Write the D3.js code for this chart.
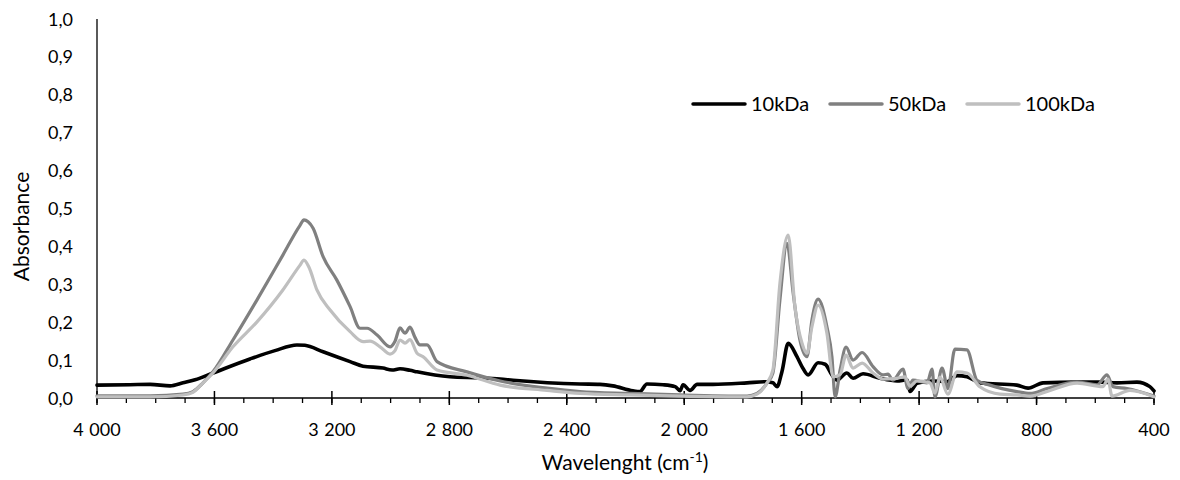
<!DOCTYPE html>
<html>
<head>
<meta charset="utf-8">
<script src="https://cdn.jsdelivr.net/npm/d3@7"></script>
<style>
  body { margin: 0; background: #fff; }
  text { font-family: Lato, "Open Sans", sans-serif; fill: #000; }
</style>
</head>
<body>
<svg id="chart" width="1180" height="480"></svg>
<script>
// series names and colours
const seriesNames = ["10kDa", "50kDa", "100kDa"];
const seriesColors = ["#000000", "#808080", "#bfbfbf"];

// 10kDa spectrum (wavenumber cm-1, absorbance)
const wn10 = [4000, 3888, 3819, 3751, 3707, 3666, 3605, 3479, 3394, 3319, 3292, 3230, 3138, 3094, 3026, 2995, 2968, 2934, 2910, 2798, 2696, 2627, 2583, 2355, 2287, 2243, 2175, 2151, 2127, 2072, 2031, 2014, 2004, 1980, 1956, 1902, 1786, 1725, 1698, 1684, 1667, 1646, 1616, 1599, 1578, 1544, 1520, 1497, 1480, 1446, 1425, 1391, 1333, 1275, 1241, 1231, 1207, 1153, 1105, 1071, 1037, 992, 867, 829, 778, 662, 584, 526, 458, 414, 400];
const abs10 = [0.034, 0.035, 0.036, 0.032, 0.040, 0.048, 0.066, 0.103, 0.125, 0.140, 0.139, 0.122, 0.096, 0.084, 0.079, 0.074, 0.077, 0.073, 0.069, 0.056, 0.053, 0.050, 0.047, 0.037, 0.036, 0.032, 0.019, 0.017, 0.037, 0.035, 0.030, 0.019, 0.035, 0.020, 0.036, 0.036, 0.040, 0.043, 0.040, 0.030, 0.070, 0.144, 0.109, 0.083, 0.061, 0.093, 0.089, 0.061, 0.047, 0.066, 0.052, 0.064, 0.052, 0.045, 0.048, 0.017, 0.039, 0.045, 0.043, 0.059, 0.056, 0.040, 0.034, 0.026, 0.040, 0.042, 0.042, 0.040, 0.042, 0.030, 0.019];

// 50kDa spectrum
const wn50 = [4000, 3819, 3707, 3673, 3639, 3605, 3537, 3455, 3367, 3309, 3295, 3281, 3264, 3230, 3183, 3138, 3104, 3080, 3046, 3002, 2985, 2968, 2951, 2934, 2917, 2900, 2876, 2842, 2740, 2627, 2467, 2355, 2185, 2014, 1786, 1752, 1718, 1698, 1674, 1650, 1629, 1606, 1582, 1565, 1544, 1514, 1497, 1486, 1469, 1449, 1425, 1394, 1357, 1323, 1306, 1289, 1255, 1238, 1221, 1173, 1156, 1146, 1122, 1102, 1078, 1037, 1003, 959, 867, 822, 764, 662, 594, 560, 540, 492, 400];
const abs50 = [0.006, 0.006, 0.010, 0.017, 0.040, 0.069, 0.153, 0.259, 0.377, 0.455, 0.470, 0.465, 0.448, 0.373, 0.311, 0.241, 0.184, 0.184, 0.166, 0.135, 0.150, 0.185, 0.171, 0.187, 0.160, 0.140, 0.140, 0.096, 0.069, 0.045, 0.026, 0.017, 0.012, 0.008, 0.005, 0.012, 0.039, 0.066, 0.259, 0.408, 0.277, 0.153, 0.109, 0.206, 0.261, 0.188, 0.109, 0.003, 0.074, 0.134, 0.100, 0.120, 0.083, 0.061, 0.063, 0.047, 0.076, 0.025, 0.047, 0.040, 0.076, 0.003, 0.079, 0.025, 0.129, 0.127, 0.047, 0.034, 0.017, 0.012, 0.025, 0.042, 0.035, 0.061, 0.030, 0.025, 0.005];

// 100kDa spectrum
const wn100 = [4000, 3819, 3707, 3673, 3639, 3605, 3537, 3455, 3367, 3309, 3295, 3278, 3251, 3206, 3138, 3094, 3070, 3036, 3002, 2985, 2968, 2951, 2934, 2910, 2890, 2842, 2740, 2627, 2467, 2355, 2185, 2014, 1786, 1752, 1718, 1698, 1674, 1646, 1623, 1599, 1582, 1565, 1544, 1514, 1493, 1469, 1449, 1425, 1394, 1357, 1323, 1275, 1248, 1231, 1207, 1163, 1146, 1129, 1102, 1071, 1037, 992, 924, 867, 822, 754, 662, 574, 557, 543, 482, 400];
const abs100 = [0.003, 0.003, 0.008, 0.015, 0.040, 0.066, 0.135, 0.201, 0.285, 0.350, 0.364, 0.345, 0.285, 0.232, 0.175, 0.149, 0.150, 0.135, 0.116, 0.125, 0.153, 0.145, 0.154, 0.118, 0.109, 0.074, 0.060, 0.034, 0.020, 0.012, 0.008, 0.005, 0.003, 0.010, 0.040, 0.074, 0.303, 0.430, 0.241, 0.145, 0.118, 0.188, 0.245, 0.171, 0.056, 0.062, 0.113, 0.079, 0.092, 0.066, 0.050, 0.052, 0.056, 0.031, 0.045, 0.040, 0.013, 0.055, 0.010, 0.069, 0.066, 0.029, 0.010, 0.008, 0.005, 0.020, 0.039, 0.030, 0.050, 0.005, 0.020, 0.003];

// axis ticks
const xMajorTicks = [4000, 3600, 3200, 2800, 2400, 2000, 1600, 1200, 800, 400];
const xMinorTicks = d3.range(4000, 399, -100);
const yTicks = [0, 0.1, 0.2, 0.3, 0.4, 0.5, 0.6, 0.7, 0.8, 0.9, 1.0];

const svg = d3.select("#chart");
const margin = { left: 97, right: 26, top: 19, bottom: 82 };
const W = 1180, H = 480;

const x = d3.scaleLinear().domain([4000, 400]).range([margin.left, W - margin.right]);
const y = d3.scaleLinear().domain([0, 1]).range([H - margin.bottom, margin.top]);

const fmtX = d => d3.format(",")(d).replace(",", " ");
const fmtY = d => d3.format(".1f")(d).replace(".", ",");

// x axis: minor ticks outside, major ticks crossing
const xAxisG = svg.append("g").attr("transform", `translate(0,${y(0)})`);
xAxisG.append("line")
  .attr("x1", x(4000)).attr("x2", x(400))
  .attr("stroke", "#000").attr("stroke-width", 1.3);
xAxisG.selectAll(".minor").data(xMinorTicks).join("line")
  .attr("x1", d => x(d)).attr("x2", d => x(d))
  .attr("y1", 0).attr("y2", 5)
  .attr("stroke", "#000").attr("stroke-width", 1.3);
xAxisG.selectAll(".major").data(xMajorTicks).join("line")
  .attr("x1", d => x(d)).attr("x2", d => x(d))
  .attr("y1", -7).attr("y2", 7)
  .attr("stroke", "#000").attr("stroke-width", 1.5);
xAxisG.selectAll(".lbl").data(xMajorTicks).join("text")
  .attr("x", d => x(d)).attr("y", 38)
  .attr("text-anchor", "middle")
  .style("font-size", "18px").style("word-spacing", "1px")
  .text(fmtX);

// y axis (line only, labels)
svg.append("line")
  .attr("x1", x(4000)).attr("x2", x(4000))
  .attr("y1", y(1)).attr("y2", y(0))
  .attr("stroke", "#000").attr("stroke-width", 1.3);
svg.append("g").selectAll("text").data(yTicks).join("text")
  .attr("x", 73).attr("y", d => y(d) + 6.5)
  .attr("text-anchor", "end")
  .style("font-size", "18px")
  .text(fmtY);

// titles
svg.append("text")
  .attr("transform", `translate(29,${(y(0) + y(1)) / 2 + 18}) rotate(-90)`)
  .attr("text-anchor", "middle")
  .style("font-size", "21px")
  .text("Absorbance");

const xt = svg.append("text")
  .attr("x", 625).attr("y", 470)
  .attr("text-anchor", "middle")
  .style("font-size", "21px");
xt.append("tspan").text("Wavelenght (cm");
xt.append("tspan").attr("dy", -8).style("font-size", "14px").text("-1");
xt.append("tspan").attr("dy", 8).text(")");

// spectra
const series = [
  { name: seriesNames[0], color: seriesColors[0], wn: wn10, abs: abs10 },
  { name: seriesNames[1], color: seriesColors[1], wn: wn50, abs: abs50 },
  { name: seriesNames[2], color: seriesColors[2], wn: wn100, abs: abs100 }
];

const line = d3.line()
  .x(d => x(d[0]))
  .y(d => y(d[1]))
  .curve(d3.curveMonotoneX);

svg.append("g").selectAll("path").data(series).join("path")
  .attr("d", s => line(s.wn.map((w, i) => [w, s.abs[i]])))
  .attr("fill", "none")
  .attr("stroke", s => s.color)
  .attr("stroke-width", (s, i) => i === 0 ? 3.6 : 3.2)
  .attr("stroke-linejoin", "round")
  .attr("stroke-linecap", "round");

// legend
const legendX = [693, 830, 967];
const leg = svg.append("g").selectAll("g").data(series).join("g")
  .attr("transform", (d, i) => `translate(${legendX[i]},104)`);
leg.append("line")
  .attr("x1", 0).attr("x2", 52)
  .attr("stroke", d => d.color).attr("stroke-width", 3.5)
  .attr("stroke-linecap", "round");
leg.append("text")
  .attr("x", 58).attr("y", 7)
  .style("font-size", "20px")
  .text(d => d.name);
</script>
</body>
</html>
